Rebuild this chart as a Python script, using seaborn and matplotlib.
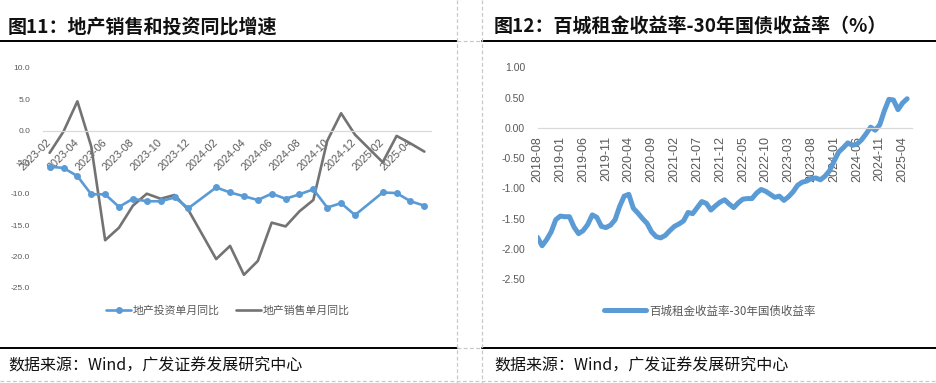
import numpy as np
import pandas as pd
import matplotlib
matplotlib.use("Agg")
import matplotlib.pyplot as plt
import seaborn as sns
from matplotlib.lines import Line2D

sns.set_theme(style="white")
plt.rcParams['font.family'] = ['Liberation Sans', 'Noto Sans CJK SC', 'DejaVu Sans']
CJK = ['Noto Sans CJK SC', 'DejaVu Sans']

# ---------------- data: left chart ----------------
left_months = ["2023-02", "2023-03", "2023-04", "2023-05", "2023-06", "2023-07", "2023-08",
               "2023-09", "2023-10", "2023-11", "2023-12", "2024-01", "2024-02", "2024-03",
               "2024-04", "2024-05", "2024-06", "2024-07", "2024-08", "2024-09", "2024-10",
               "2024-11", "2024-12", "2025-01", "2025-02", "2025-03", "2025-04", "2025-05"]
invest_yoy = [-5.7, -5.9, -7.2, -10.1, -10.1, -12.1, -10.8, -11.2, -11.2, -10.6, -12.3, np.nan,
              -9.0, -9.8, -10.4, -11.0, -10.0, -10.8, -10.1, -9.3, -12.2, -11.5, -13.4, np.nan,
              -9.8, -9.9, -11.2, -11.9]
sales_yoy = [-3.5, -0.1, 4.7, -2.5, -17.4, -15.4, -11.9, -10.0, -10.8, -10.2, -12.6, np.nan,
             -20.4, -18.3, -22.9, -20.7, -14.6, -15.2, -12.8, -11.0, -1.6, 2.8, -0.6, np.nan,
             -5.0, -0.8, -2.0, -3.3]
left_yticks = [10, 5, 0, -5, -10, -15, -20, -25]
left_series_names = ["地产投资单月同比", "地产销售单月同比"]

# ---------------- data: right chart ----------------
right_months = pd.period_range("2018-08", "2025-05", freq="M").strftime("%Y-%m").tolist()
spread = [-1.81, -1.95, -1.85, -1.72, -1.52, -1.46, -1.47, -1.47, -1.64, -1.75,
          -1.70, -1.60, -1.44, -1.48, -1.63, -1.65, -1.61, -1.52, -1.30, -1.13,
          -1.10, -1.33, -1.41, -1.50, -1.58, -1.72, -1.80, -1.82, -1.78, -1.70,
          -1.63, -1.59, -1.54, -1.40, -1.42, -1.32, -1.22, -1.25, -1.36, -1.29,
          -1.23, -1.19, -1.26, -1.32, -1.24, -1.18, -1.17, -1.17, -1.08, -1.02,
          -1.05, -1.10, -1.15, -1.13, -1.20, -1.14, -1.06, -0.95, -0.90, -0.88,
          -0.84, -0.83, -0.86, -0.80, -0.71, -0.55, -0.40, -0.33, -0.25, -0.29,
          -0.27, -0.20, -0.10, 0.01, -0.04, 0.05, 0.28, 0.47, 0.46, 0.30,
          0.41, 0.48]
right_yticks = [1.0, 0.5, 0.0, -0.5, -1.0, -1.5, -2.0, -2.5]
right_series_name = "百城租金收益率-30年国债收益率"

titles = ["图11：地产销售和投资同比增速", "图12：百城租金收益率-30年国债收益率（%）"]
source = "数据来源：Wind，广发证券发展研究中心"

BLUE = "#5B9BD5"
GRAY = "#737373"
AXC = "#D9D9D9"
TXT = "#595959"

W, H = 936, 383
fig = plt.figure(figsize=(W / 100, H / 100), dpi=100)
fig.patch.set_facecolor("white")

def fx(px):
    return px / W

def fy(py):
    return 1 - py / H

def style_axes(ax):
    for s in ["top", "right", "left"]:
        ax.spines[s].set_visible(False)
    ax.spines["bottom"].set_position(("data", 0))
    ax.spines["bottom"].set_color(AXC)
    ax.spines["bottom"].set_linewidth(0.9)
    ax.set_xlabel("")
    ax.set_ylabel("")
    ax.grid(False)
    ax.set_facecolor("none")

# ---------------- left axes ----------------
axL = fig.add_axes([fx(42.7), fy(288), fx(431.3 - 42.7), (288 - 68) / H])
dfL = pd.DataFrame({"pos": np.arange(len(left_months)), "invest": invest_yoy, "sales": sales_yoy})
dI = dfL.dropna(subset=["invest"])
dS = dfL.dropna(subset=["sales"])
sns.lineplot(data=dS, x="pos", y="sales", ax=axL, color=GRAY, linewidth=1.9, sort=False)
sns.lineplot(data=dI, x="pos", y="invest", ax=axL, color=BLUE, linewidth=1.9,
             marker="o", markersize=5, markeredgewidth=0, sort=False)
style_axes(axL)
axL.set_xlim(-0.5, len(left_months) - 0.5)
axL.set_ylim(-25, 10)
axL.set_yticks(left_yticks)
axL.set_yticklabels([f"{v:.1f}" for v in left_yticks], color=TXT, fontsize=6)
axL.set_xticks(np.arange(0, len(left_months), 2))
axL.set_xticks(np.arange(-0.5, len(left_months), 2), minor=True)
axL.tick_params(axis="x", which="major", length=0, pad=7)
axL.tick_params(axis="x", which="minor", length=4, color=AXC, width=0.8, direction="out")
axL.tick_params(axis="y", length=0, pad=9)
axL.set_xticklabels(left_months[::2], rotation=45, ha="right", rotation_mode="anchor",
                    va="center", color=TXT, fontsize=7.8)

hL = [Line2D([], [], color=BLUE, lw=1.9, marker="o", markersize=5, markeredgewidth=0),
      Line2D([], [], color=GRAY, lw=1.9)]
legL = axL.legend(hL, left_series_names, loc="center", bbox_to_anchor=(fx(228), fy(311)),
                  bbox_transform=fig.transFigure, ncol=2, frameon=False, handlelength=2.3,
                  handletextpad=0.15, columnspacing=1.5, prop={'family': CJK, 'size': 7.8})
for t in legL.get_texts():
    t.set_color(TXT)

# ---------------- right axes ----------------
axR = fig.add_axes([fx(537.5), fy(279), fx(911.7 - 537.5), (279 - 67.3) / H])
dfR = pd.DataFrame({"pos": np.arange(len(right_months)), "spread": spread})
sns.lineplot(data=dfR, x="pos", y="spread", ax=axR, color=BLUE, linewidth=3.6,
             solid_joinstyle="round", solid_capstyle="round")
style_axes(axR)
axR.set_xlim(0, len(right_months))
axR.set_ylim(-2.5, 1.0)
axR.set_yticks(right_yticks)
axR.set_yticklabels([f"{v:.2f}" for v in right_yticks], color=TXT, fontsize=7.5)
axR.set_xticks(np.arange(0, len(right_months), 5))
axR.tick_params(axis="x", length=4, color=AXC, width=0.8, pad=2, direction="out")
axR.tick_params(axis="y", length=0, pad=9)
axR.set_xticklabels(right_months[::5], rotation=90, ha="center", va="top", color=TXT, fontsize=9)

hR = [Line2D([], [], color=BLUE, lw=3.6, solid_capstyle="round")]
legR = axR.legend(hR, [right_series_name], loc="center", bbox_to_anchor=(fx(710), fy(311)),
                  bbox_transform=fig.transFigure, ncol=1, frameon=False, handlelength=3.6,
                  handletextpad=0.3, prop={'family': CJK, 'size': 8.3})
for t in legR.get_texts():
    t.set_color(TXT)

# ---------------- frame decorations ----------------
def hline(x0, x1, y, **kw):
    fig.add_artist(Line2D([fx(x0), fx(x1)], [fy(y), fy(y)], transform=fig.transFigure, **kw))

def vline(x, y0, y1, **kw):
    fig.add_artist(Line2D([fx(x), fx(x)], [fy(y0), fy(y1)], transform=fig.transFigure, **kw))

fig.text(fx(8), fy(27), titles[0], fontsize=13.7, fontweight="bold", family=CJK,
         color="#111111", va="center", ha="left")
fig.text(fx(494), fy(27), titles[1], fontsize=13.7, fontweight="bold", family=CJK,
         color="#111111", va="center", ha="left")
fig.text(fx(8), fy(366), source, fontsize=11.5, family=CJK, color="#111111", va="center", ha="left")
fig.text(fx(494), fy(366), source, fontsize=11.5, family=CJK, color="#111111", va="center", ha="left")

hline(0, 456.5, 41, color="black", lw=1.4)
hline(482.5, 936, 41, color="black", lw=1.4)
hline(0, 456.5, 348, color="black", lw=1.4)
hline(482.5, 936, 348, color="black", lw=1.4)
dash = dict(color="#C8C8C8", lw=0.9, ls=(0, (3, 2)))
vline(456.7, 0, 383, **dash)
vline(482.3, 0, 383, **dash)
hline(456.7, 482.3, 41, **dash)
hline(456.7, 482.3, 348, **dash)
hline(0, 936, 381, **dash)

fig.savefig("out.png", dpi=100, facecolor="white")
